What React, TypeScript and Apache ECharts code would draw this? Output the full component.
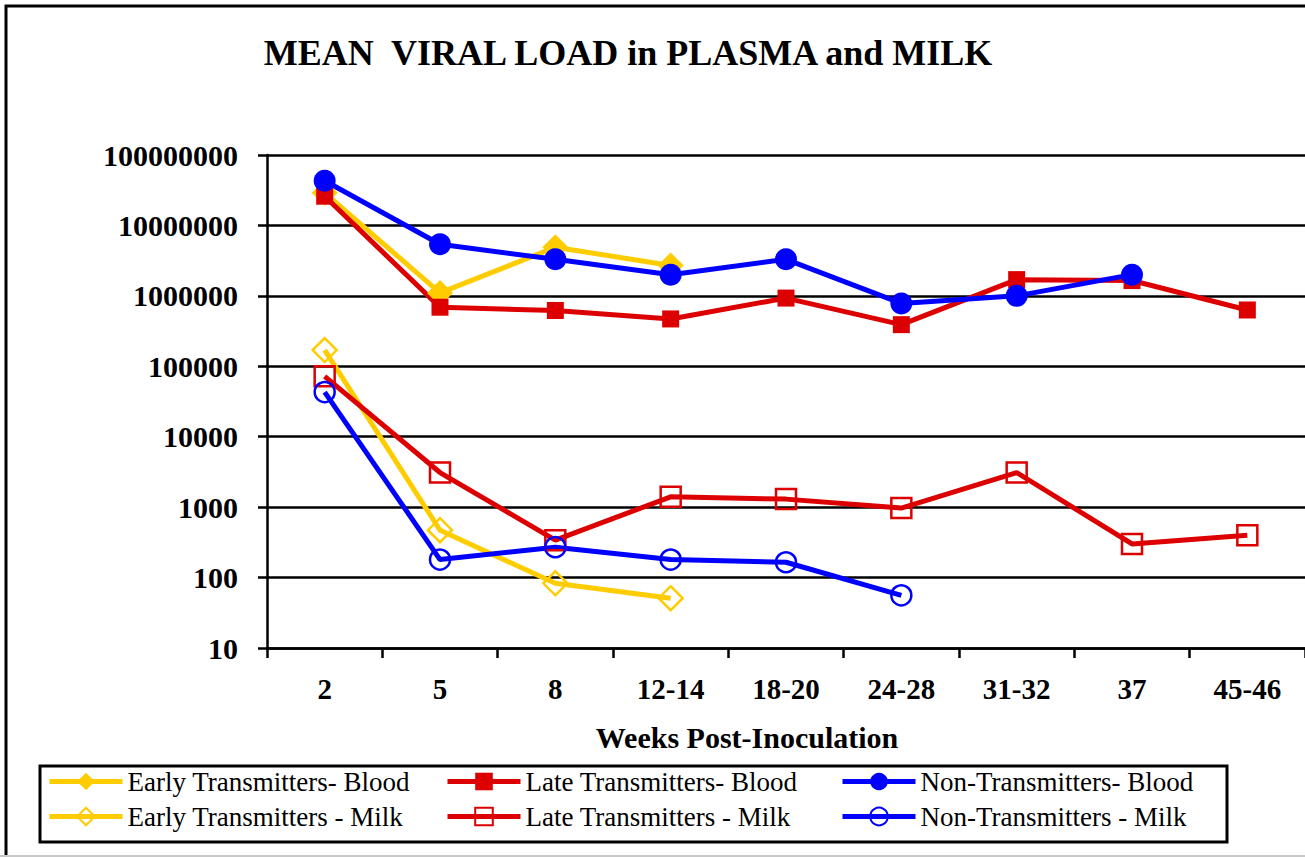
import React, { useEffect, useRef } from "react";
import * as echarts from "echarts";

const weeks = ["2", "5", "8", "12-14", "18-20", "24-28", "31-32", "37", "45-46"];
const yTicks = [10, 100, 1000, 10000, 100000, 1000000, 10000000, 100000000];

const earlyBlood = [29000000, 1100000, 4900000, 2700000, null, null, null, null, null];
const lateBlood = [26000000, 690000, 620000, 470000, 930000, 390000, 1700000, 1650000, 630000];
const nonBlood = [43000000, 5400000, 3300000, 2000000, 3300000, 780000, 1000000, 2000000, null];
const earlyMilk = [170000, 470, 83, 51, null, null, null, null, null];
const lateMilk = [72000, 3100, 340, 1400, 1300, 970, 3100, 300, 400];
const nonMilk = [43000, 180, 270, 180, 165, 56, null, null, null];

const YELLOW = "#FFCC00";
const RED = "#DD0000";
const BLUE = "#0000FF";
const FONT = "'Liberation Serif', 'Times New Roman', serif";

function mk(name: string, data: (number | null)[], color: string, symbol: string, size: number, hollow: boolean) {
  return {
    name,
    type: "line",
    data,
    color,
    symbol,
    symbolSize: size,
    showAllSymbol: true,
    connectNulls: false,
    lineStyle: { color, width: 5 },
    itemStyle: hollow
      ? { color: "rgba(255,255,255,0)", borderColor: color, borderWidth: 2.5 }
      : { color, borderColor: color, borderWidth: 0 },
    emphasis: { disabled: true },
  };
}

export default function App() {
  const ref = useRef<HTMLDivElement>(null);
  useEffect(() => {
    if (!ref.current) return;
    const chart = echarts.init(ref.current, null, { renderer: "svg" });
    const legendCommon = {
      orient: "vertical",
      top: 763,
      itemWidth: 73,
      itemHeight: 22,
      itemGap: 8,
      selectedMode: false,
      lineStyle: { width: 5 },
      textStyle: { fontFamily: FONT, fontSize: 27, color: "#000" },
    };
    chart.setOption({
      animation: false,
      backgroundColor: "#fff",
      title: {
        text: "MEAN  VIRAL LOAD in PLASMA and MILK",
        left: 623,
        top: 30,
        textAlign: "center",
        textStyle: { fontFamily: FONT, fontSize: 36, fontWeight: "bold", color: "#000" },
      },
      grid: { left: 267, top: 155, width: 1044, height: 493, containLabel: false },
      xAxis: {
        type: "category",
        data: weeks,
        boundaryGap: true,
        axisLine: { show: true, lineStyle: { color: "#000", width: 2.5 } },
        axisTick: { show: true, length: 10, lineStyle: { color: "#000", width: 2.5 } },
        axisLabel: {
          interval: 0,
          margin: 26,
          fontFamily: FONT,
          fontSize: 29,
          fontWeight: "bold",
          color: "#000",
        },
        splitLine: { show: false },
      },
      yAxis: {
        type: "log",
        logBase: 10,
        min: yTicks[0],
        max: yTicks[yTicks.length - 1],
        axisLine: { show: true, lineStyle: { color: "#000", width: 2.5 } },
        axisTick: { show: true, length: 9, lineStyle: { color: "#000", width: 2.5 } },
        axisLabel: {
          margin: 29,
          fontFamily: FONT,
          fontSize: 30,
          fontWeight: "bold",
          color: "#000",
          formatter: (v: number) => String(Math.round(v)),
        },
        splitLine: { show: true, lineStyle: { color: "#000", width: 2.5 } },
      },
      legend: [
        { ...legendCommon, left: 42, data: ["Early Transmitters- Blood", "Early Transmitters - Milk"] },
        { ...legendCommon, left: 440, data: ["Late Transmitters- Blood", "Late Transmitters - Milk"] },
        { ...legendCommon, left: 835, data: ["Non-Transmitters- Blood", "Non-Transmitters - Milk"] },
      ],
      graphic: [
        {
          type: "rect",
          shape: { x: 6, y: 6, width: 1320, height: 880 },
          style: { fill: "none", stroke: "#000", lineWidth: 3 },
          silent: true,
        },
        {
          type: "line",
          shape: { x1: 0, y1: 856, x2: 1305, y2: 856 },
          style: { stroke: "#c8c8c8", lineWidth: 2 },
          silent: true,
        },
        {
          type: "rect",
          shape: { x: 40, y: 766, width: 1187, height: 76 },
          style: { fill: "none", stroke: "#000", lineWidth: 3 },
          silent: true,
        },
        {
          type: "text",
          x: 747,
          y: 737,
          style: {
            text: "Weeks Post-Inoculation",
            fontFamily: FONT,
            fontSize: 30,
            fontWeight: "bold",
            fill: "#000",
            textAlign: "center",
            textVerticalAlign: "middle",
          },
          silent: true,
        },
      ],
      series: [
        mk("Early Transmitters- Blood", earlyBlood, YELLOW, "diamond", 26, false),
        mk("Late Transmitters- Blood", lateBlood, RED, "rect", 17, false),
        mk("Non-Transmitters- Blood", nonBlood, BLUE, "circle", 22, false),
        mk("Early Transmitters - Milk", earlyMilk, YELLOW, "diamond", 24, true),
        mk("Late Transmitters - Milk", lateMilk, RED, "rect", 20, true),
        mk("Non-Transmitters - Milk", nonMilk, BLUE, "circle", 20, true),
      ],
    });
    return () => chart.dispose();
  }, []);
  return (
    <div
      ref={ref}
      style={{ position: "fixed", left: 0, top: 0, width: 1305, height: 857, background: "#fff" }}
    />
  );
}
